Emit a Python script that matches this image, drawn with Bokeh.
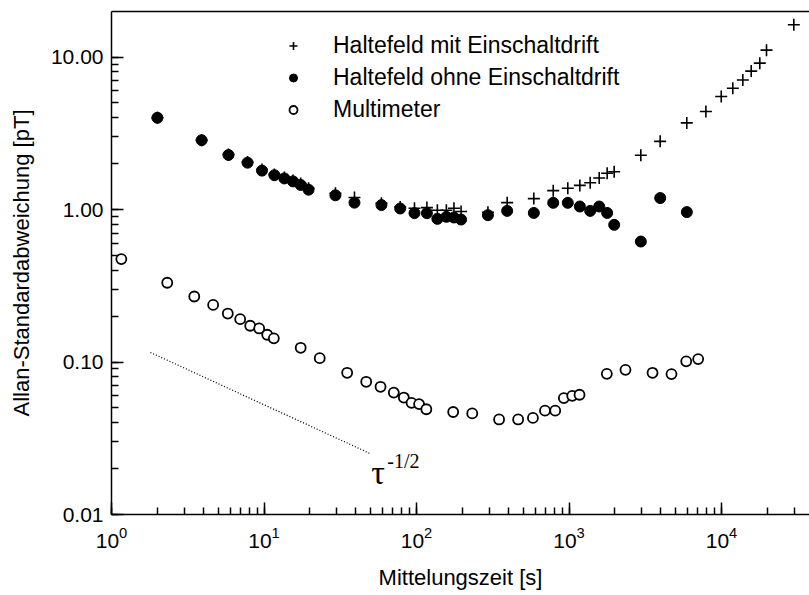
from bokeh.plotting import figure
from bokeh.models import (Legend, LegendItem, Label, Range1d, LogTickFormatter,
                          PrintfTickFormatter, LogAxis)
from bokeh.embed import file_html
from bokeh.resources import INLINE

# ---------------- data ----------------
mit_x = [2.0, 3.9, 5.85, 7.8, 9.7, 11.7, 13.6, 15.5, 17.4, 19.6, 29.4, 39.2, 58.9, 78.2,
         97, 117, 137, 157, 176, 196, 294, 393, 588, 788, 982, 1178, 1377, 1578, 1779,
         1978, 2958, 3960, 5920, 7900, 9960, 11860, 13800, 15660, 17830, 19730, 29800]
mit_y = [4.0, 2.85, 2.30, 2.05, 1.83, 1.70, 1.62, 1.55, 1.48, 1.38, 1.28, 1.20, 1.10, 1.04,
         1.02, 1.03, 0.99, 0.99, 1.02, 0.97, 0.96, 1.11, 1.18, 1.33, 1.38, 1.44, 1.50, 1.61,
         1.73, 1.77, 2.27, 2.80, 3.70, 4.40, 5.51, 6.25, 7.08, 8.09, 9.12, 11.1, 16.3]

ohne_x = [2.0, 3.9, 5.85, 7.8, 9.7, 11.7, 13.6, 15.5, 17.4, 19.6, 29.4, 39.2, 58.9, 78.2,
          97, 117, 137, 157, 176, 196, 294, 393, 588, 788, 982, 1178, 1377, 1578, 1779,
          1978, 2958, 3963, 5925]
ohne_y = [4.0, 2.85, 2.28, 2.03, 1.80, 1.68, 1.60, 1.53, 1.45, 1.35, 1.24, 1.11, 1.07, 1.016,
          0.947, 0.947, 0.869, 0.896, 0.887, 0.86, 0.919, 0.98, 0.95, 1.107, 1.107, 1.047,
          0.98, 1.047, 0.95, 0.794, 0.617, 1.19, 0.962]

multi_x = [1.16, 2.32, 3.49, 4.64, 5.79, 6.98, 8.12, 9.30, 10.5, 11.6, 17.4, 23.2, 35.1,
           46.8, 58.1, 71, 82.6, 92.8, 104, 116, 174, 232, 348, 464, 580, 696, 812, 925,
           1050, 1172, 1770, 2346, 3530, 4699, 5870, 7030]
multi_y = [0.473, 0.331, 0.269, 0.237, 0.208, 0.191, 0.173, 0.166, 0.151, 0.143, 0.124,
           0.106, 0.085, 0.0742, 0.0688, 0.063, 0.0585, 0.054, 0.053, 0.049, 0.047, 0.046,
           0.042, 0.042, 0.043, 0.048, 0.048, 0.058, 0.060, 0.061, 0.0837, 0.0889, 0.085,
           0.0833, 0.101, 0.1045]

slope_x = [1.8, 50.5]
slope_y = [0.1155, 0.0249]

labels = ["Haltefeld mit Einschaltdrift", "Haltefeld ohne Einschaltdrift", "Multimeter"]
x_title = "Mittelungszeit [s]"
y_title = "Allan-Standardabweichung [pT]"
tau_text = "\u03c4"
tau_exp = "-1/2"
tau_pos = (50.5, 0.0188)

FONT = "Liberation Sans"

p = figure(width=809, height=595, x_axis_type="log", y_axis_type="log",
           x_range=Range1d(1, 37760), y_range=Range1d(0.01, 19.9),
           output_backend="svg", toolbar_location=None,
           min_border_left=111, min_border_right=0, min_border_top=11,
           min_border_bottom=81, background_fill_color="white",
           border_fill_color="white")
p.grid.visible = False
p.outline_line_color = None

for ax in (p.xaxis[0], p.yaxis[0]):
    ax.axis_line_width = 1.5
    ax.axis_line_color = "black"
    ax.major_tick_in = 12
    ax.major_tick_out = 0
    ax.minor_tick_in = 7
    ax.minor_tick_out = 0
    ax.major_tick_line_width = 1.5
    ax.minor_tick_line_width = 1.5
    ax.major_tick_line_color = "black"
    ax.minor_tick_line_color = "black"
    ax.major_label_text_font = FONT
    ax.major_label_text_font_size = "21px"
    ax.major_label_text_color = "black"
    ax.axis_label_text_font = FONT
    ax.axis_label_text_font_size = "22px"
    ax.axis_label_text_font_style = "normal"
    ax.axis_label_text_color = "black"

p.xaxis.formatter = LogTickFormatter()
p.yaxis.formatter = PrintfTickFormatter(format="%.2f")
p.xaxis.axis_label = x_title
p.yaxis.axis_label = y_title
p.xaxis.major_label_standoff = 12
p.yaxis.major_label_standoff = 8
p.xaxis.axis_label_standoff = 14
p.yaxis.axis_label_standoff = 14

# plain top frame line (no ticks, no visible labels)
top = LogAxis(axis_line_width=1.5, axis_line_color="black",
              major_tick_in=0, major_tick_out=0, minor_tick_in=0, minor_tick_out=0,
              major_tick_line_color=None, minor_tick_line_color=None,
              major_label_text_font_size="3px", major_label_text_alpha=0,
              major_label_standoff=0)
p.add_layout(top, "above")

r_mit = p.scatter(mit_x, mit_y, marker="cross", size=12, line_color="black",
                  line_width=1.6)
r_ohne = p.scatter(ohne_x, ohne_y, marker="circle", size=11, fill_color="black",
                   line_color="black", line_width=1)
r_multi = p.scatter(multi_x, multi_y, marker="circle", size=10, fill_color="white",
                    line_color="black", line_width=1.8)

p.line(slope_x, slope_y, line_color="black", line_width=1.3, line_dash="1 2")

p.add_layout(Label(x=tau_pos[0], y=tau_pos[1], text=tau_text,
                   text_font="Liberation Serif", text_font_size="34px",
                   text_color="black", text_baseline="alphabetic"))
p.add_layout(Label(x=tau_pos[0], y=tau_pos[1], text=tau_exp, x_offset=16, y_offset=12,
                   text_font="Liberation Serif", text_font_size="20px",
                   text_color="black", text_baseline="alphabetic"))

legend = Legend(items=[LegendItem(label=labels[0], renderers=[r_mit]),
                       LegendItem(label=labels[1], renderers=[r_ohne]),
                       LegendItem(label=labels[2], renderers=[r_multi])],
                location=(172, 391), border_line_color=None,
                background_fill_alpha=0, label_text_font=FONT,
                label_text_font_size="23px", label_text_color="black",
                glyph_width=20, glyph_height=27, label_height=27,
                label_standoff=30, spacing=5, padding=0, margin=0)
p.add_layout(legend)

open("out.html", "w").write(file_html(p, INLINE))
